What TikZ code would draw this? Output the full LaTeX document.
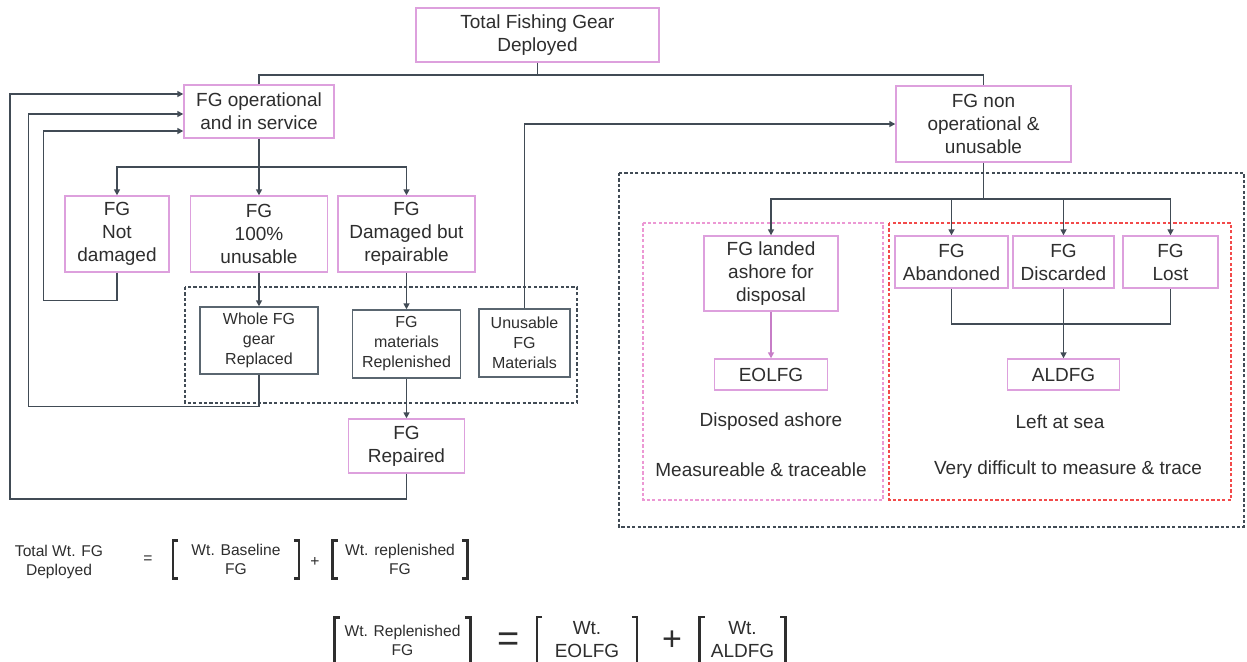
\documentclass[tikz,border=0pt]{standalone}
\usepackage{fontspec}
\setmainfont{Liberation Sans}
\usepackage{xcolor}
\usetikzlibrary{arrows.meta}

\definecolor{boxpink}{HTML}{DDA0DD}
\definecolor{arrpink}{HTML}{C77DC7}
\definecolor{dashpink}{HTML}{EC98D4}
\definecolor{dashred}{HTML}{F24A4A}
\definecolor{linegray}{HTML}{414B55}
\definecolor{darkbox}{HTML}{5A6670}
\definecolor{txt}{HTML}{2E2E2E}

\newcommand\sqbrk[1]{%
  \draw[brk] ([xshift=2.5pt]#1.north west) -| (#1.south west) -- ++(2.5pt,0);
  \draw[brk] ([xshift=-2.5pt]#1.north east) -| (#1.south east) -- ++(-2.5pt,0);}

\begin{document}
\begin{tikzpicture}[
  x=0.5pt, y=-0.5pt,
  every node/.style={text=txt, align=center, inner sep=1pt, font=\fontsize{9.5}{11.5}\selectfont},
  sz/.style 2 args={minimum width=#1pt, minimum height=#2pt},
  pbox/.style={draw=boxpink, line width=0.7pt},
  gbox/.style={draw=darkbox, line width=0.7pt, font=\fontsize{8}{10}\selectfont},
  conn/.style={draw=linegray, line width=0.75pt},
  arr/.style={conn, -{Triangle[length=3pt, width=3pt]}},
  zone/.style={line width=0.6pt, dash pattern=on 1.6pt off 1.1pt},
  eqtxt/.style={font=\fontsize{7.8}{9.6}\selectfont},
  brk/.style={draw=txt, line width=1.3pt}
]
\fill[white] (0,0) rectangle (1247,661);
\useasboundingbox (0,0) rectangle (1247,661);

% dashed zones
\draw[zone, draw=linegray] (185,287) rectangle (577,403);
\draw[zone, draw=linegray] (619,173) rectangle (1244,527);
\draw[zone, draw=dashpink] (643,223) rectangle (883,500);
\draw[zone, draw=dashred] (889,223) rectangle (1231,500);

% left branch
\node[pbox, sz={121.5}{27}] (total) at (537.5,35) {Total Fishing Gear\\Deployed};
\node[pbox, sz={75}{26.5}] (oper) at (259,111.5) {FG operational\\and in service};
\node[pbox, sz={52}{38}] (notdmg) at (117,234) {FG\\Not\\damaged};
\node[pbox, sz={68.5}{38}] (unus) at (259,234) {FG\\100\%\\unusable};
\node[pbox, sz={68.5}{38}] (dmg) at (406.5,234) {FG\\Damaged but\\repairable};
\node[gbox, sz={59}{33.5}] (whole) at (259,340.5) {Whole FG\\gear\\Replaced};
\node[gbox, sz={54}{34}] (matrep) at (406.5,344) {FG\\materials\\Replenished};
\node[gbox, sz={45.5}{34}] (unmat) at (524.5,343) {Unusable\\FG\\Materials};
\node[pbox, sz={58}{27}] (repaired) at (406.5,446) {FG\\Repaired};

% right branch
\node[pbox, sz={87.5}{38}] (nonop) at (983.5,124) {FG non\\operational \&\\unusable};
\node[pbox, sz={67}{37.5}] (landed) at (771,273.5) {FG landed\\ashore for\\disposal};
\node[pbox, sz={56.5}{15.5}] (eolfg) at (771,374.5) {EOLFG};
\node[pbox, sz={56.5}{26}] (aband) at (951.5,262) {FG\\Abandoned};
\node[pbox, sz={50.5}{26}] (disc) at (1063.5,262) {FG\\Discarded};
\node[pbox, sz={47.5}{26}] (lost) at (1170.5,262) {FG\\Lost};
\node[pbox, sz={56}{15.5}] (aldfg) at (1063.5,374.5) {ALDFG};
\node (dispo) at (771,422) {Disposed ashore};
\node (meas) at (761,470) {Measureable \& traceable};
\node (atsea) at (1060,422) {Left at sea};
\node (hard) at (1068,470) {Very difficult to measure \& trace};

% connectors
\coordinate (tsplit) at (537.5,75);
\coordinate (osplit) at (259,167);
\coordinate (nsplit) at (983.5,199);
\coordinate (ajoin) at (1063.5,324);
\draw[conn] (total.south) -- (tsplit);
\draw[conn] (oper.north) |- (tsplit) -| (nonop.north);
\draw[conn] (oper.south) -- (osplit);
\draw[arr] (osplit) -| (notdmg.north);
\draw[arr] (osplit) -- (unus.north);
\draw[arr] (osplit) -| (dmg.north);
\draw[arr] (unus.south) -- (whole.north);
\draw[arr] (dmg.south) -- (matrep.north);
\draw[arr] (matrep.south) -- (repaired.north);
\draw[arr] (unmat.north) |- (nonop.west);
\draw[arr] (repaired.south) |- (10,499) |- ([yshift=8.75pt]oper.west);
\draw[arr] (whole.south) |- (28.5,406.5) |- ([yshift=-1.25pt]oper.west);
\draw[arr] (notdmg.south) |- (43.5,300.5) |- ([yshift=-9.75pt]oper.west);

\draw[conn] (nonop.south) -- (nsplit);
\draw[arr] (nsplit) -| (landed.north);
\draw[arr] (nsplit) -| (lost.north);
\foreach \n in {aband,disc}
  \draw[arr] (\n.north |- nsplit) -- (\n.north);
\draw[arr, draw=arrpink] (landed.south) -- (eolfg.north);
\draw[conn] (aband.south) |- (ajoin) -| (lost.south);
\draw[arr] (disc.south) -- (aldfg.north);

% weight balance
\node[eqtxt] (lhs) at (59,562) {Total Wt. FG\\Deployed};
\node[eqtxt] (eqa) at (148,560) {=};
\node[eqtxt, sz={62.5}{18.5}] (base) at (236,559.5) {Wt. Baseline\\FG};
\node[eqtxt] (plusa) at (315,562) {+};
\node[eqtxt, sz={67}{18.5}] (repl) at (400,559.5) {Wt. replenished\\FG};
\sqbrk{base}
\sqbrk{repl}

\node[eqtxt, sz={67.5}{22.5}] (repb) at (402.5,640.5) {Wt. Replenished\\FG};
\node[font=\fontsize{19}{20}\selectfont] (eqb) at (509,642) {=};
\node[sz={49.5}{22.5}] (eol) at (587,640) {Wt.\\EOLFG};
\node[font=\fontsize{17}{18}\selectfont] (plusb) at (672,641) {+};
\node[sz={42.5}{22.5}] (ald) at (742.5,640) {Wt.\\ALDFG};
\sqbrk{repb}
\sqbrk{eol}
\sqbrk{ald}
\end{tikzpicture}
\end{document}
